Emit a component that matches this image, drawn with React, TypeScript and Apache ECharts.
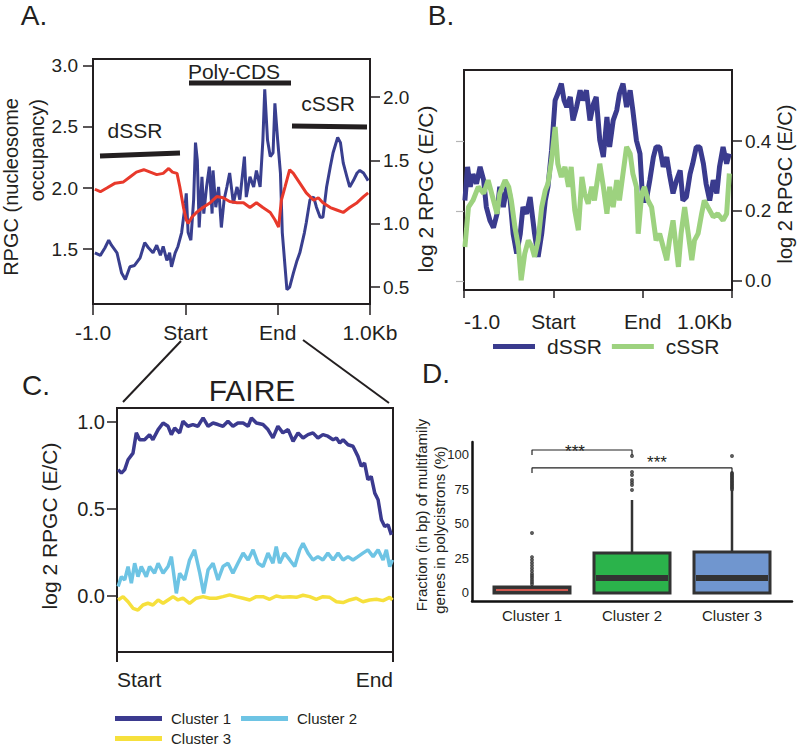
import React, { useEffect, useRef } from 'react';
import * as echarts from 'echarts';

const FONT = "'Liberation Sans', Arial, sans-serif";
const INK = '#231f20';

// ---- tick labels ----
const regionLabels = ['-1.0', 'Start', 'End', '1.0Kb'];
const geneLabels = ['Start', 'End'];
const aLeftTicks = [1.5, 2.0, 2.5, 3.0];
const aRightTicks = [0.5, 1.0, 1.5, 2.0];
const bTicks = [0.0, 0.2, 0.4];
const cTicks = [0.0, 0.5, 1.0];
const dTicks = [0, 25, 50, 75, 100];
const dCategories = ['Cluster 1', 'Cluster 2', 'Cluster 3'];

// ---- Panel A: position (0=-1kb, 1=Start, 2=End, 3=+1kb), value ----
const aNucleosome: [number, number][] = [
  [0.02, 1.99], [0.08, 1.97], [0.15, 2.0], [0.24, 2.04], [0.33, 2.05], [0.4, 2.09], [0.47, 2.13],
  [0.55, 2.15], [0.62, 2.13], [0.69, 2.11], [0.76, 2.12], [0.82, 2.16], [0.86, 2.13], [0.91, 2.12],
  [0.94, 2.01], [0.98, 1.84], [1.01, 1.74], [1.03, 1.71], [1.07, 1.76], [1.12, 1.8], [1.19, 1.84],
  [1.27, 1.88], [1.34, 1.93], [1.41, 1.92], [1.48, 1.89], [1.56, 1.88], [1.63, 1.88], [1.7, 1.84],
  [1.77, 1.88], [1.84, 1.84], [1.92, 1.8], [1.97, 1.74], [2.01, 1.68], [2.04, 1.9], [2.08, 2.01],
  [2.13, 2.15], [2.17, 2.12], [2.24, 2.04], [2.31, 1.96], [2.39, 1.9], [2.44, 1.92], [2.49, 1.88],
  [2.57, 1.84], [2.64, 1.82], [2.71, 1.8], [2.78, 1.84], [2.86, 1.88], [2.93, 1.93], [2.98, 1.96],
];
const aFoldChange: [number, number][] = [
  [0.02, 0.77], [0.08, 0.75], [0.13, 0.81], [0.17, 0.87], [0.2, 0.83], [0.26, 0.77], [0.31, 0.61],
  [0.35, 0.56], [0.4, 0.66], [0.45, 0.67], [0.51, 0.73], [0.56, 0.85], [0.6, 0.81], [0.65, 0.77],
  [0.69, 0.83], [0.73, 0.75], [0.76, 0.82], [0.8, 0.71], [0.83, 0.77], [0.85, 0.66], [0.89, 0.77],
  [0.92, 0.82], [0.96, 0.93], [1.0, 1.16], [1.01, 1.24], [1.03, 0.93], [1.06, 0.87], [1.09, 1.19],
  [1.11, 1.64], [1.13, 1.5], [1.15, 0.97], [1.18, 1.37], [1.2, 1.08], [1.23, 1.29], [1.26, 1.45],
  [1.29, 1.08], [1.3, 1.42], [1.33, 1.13], [1.36, 1.29], [1.39, 0.97], [1.42, 1.19], [1.45, 1.29],
  [1.48, 1.4], [1.52, 1.16], [1.56, 1.29], [1.59, 1.19], [1.64, 1.53], [1.66, 1.21], [1.7, 1.37],
  [1.74, 1.29], [1.77, 1.42], [1.81, 1.29], [1.84, 1.66], [1.86, 2.06], [1.89, 1.66], [1.92, 1.53],
  [1.95, 1.56], [1.97, 1.95], [2.0, 1.66], [2.03, 1.4], [2.05, 0.93], [2.08, 0.66], [2.1, 0.48],
  [2.13, 0.5], [2.17, 0.61], [2.21, 0.71], [2.24, 0.77], [2.29, 0.93], [2.31, 1.01], [2.35, 1.19],
  [2.39, 1.21], [2.42, 1.13], [2.46, 1.05], [2.49, 1.05], [2.53, 1.29], [2.57, 1.45], [2.6, 1.56],
  [2.65, 1.68], [2.68, 1.64], [2.71, 1.48], [2.75, 1.37], [2.78, 1.29], [2.82, 1.34], [2.86, 1.4],
  [2.89, 1.42], [2.93, 1.4], [2.98, 1.34],
];

// ---- Panel B ----
const bDSSR: [number, number][] = [
  [0.01, 0.23], [0.04, 0.326], [0.07, 0.269], [0.1, 0.305], [0.14, 0.278], [0.18, 0.326], [0.22, 0.288],
  [0.25, 0.211], [0.29, 0.173], [0.33, 0.152], [0.37, 0.192], [0.4, 0.269], [0.44, 0.211], [0.48, 0.269],
  [0.51, 0.25], [0.55, 0.135], [0.59, 0.078], [0.63, 0.135], [0.66, 0.211], [0.7, 0.192], [0.74, 0.24],
  [0.79, 0.135], [0.83, 0.069], [0.87, 0.135], [0.91, 0.23], [0.94, 0.269], [0.98, 0.373], [1.02, 0.516],
  [1.05, 0.535], [1.09, 0.564], [1.12, 0.516], [1.15, 0.497], [1.19, 0.526], [1.22, 0.459], [1.26, 0.497],
  [1.3, 0.545], [1.33, 0.516], [1.37, 0.545], [1.41, 0.459], [1.45, 0.507], [1.48, 0.526], [1.52, 0.402],
  [1.56, 0.354], [1.6, 0.469], [1.63, 0.383], [1.67, 0.459], [1.71, 0.488], [1.74, 0.535], [1.78, 0.564],
  [1.82, 0.497], [1.86, 0.545], [1.89, 0.488], [1.93, 0.402], [1.97, 0.364], [2.0, 0.23], [2.04, 0.23],
  [2.08, 0.288], [2.12, 0.354], [2.15, 0.383], [2.19, 0.383], [2.23, 0.326], [2.27, 0.354], [2.3, 0.305],
  [2.34, 0.25], [2.38, 0.288], [2.42, 0.316], [2.45, 0.23], [2.49, 0.24], [2.53, 0.305], [2.56, 0.335],
  [2.6, 0.383], [2.64, 0.383], [2.68, 0.335], [2.71, 0.278], [2.75, 0.23], [2.79, 0.288], [2.83, 0.25],
  [2.86, 0.326], [2.9, 0.383], [2.94, 0.335], [2.97, 0.364],
];
const bCSSR: [number, number][] = [
  [0.01, 0.097], [0.05, 0.211], [0.1, 0.23], [0.16, 0.269], [0.22, 0.25], [0.27, 0.288], [0.33, 0.23],
  [0.37, 0.192], [0.4, 0.25], [0.46, 0.288], [0.5, 0.269], [0.53, 0.23], [0.57, 0.154], [0.61, 0.097],
  [0.64, 0.002], [0.68, 0.078], [0.72, 0.116], [0.76, 0.097], [0.79, 0.069], [0.83, 0.116], [0.87, 0.211],
  [0.91, 0.259], [0.94, 0.278], [0.98, 0.345], [1.02, 0.44], [1.05, 0.335], [1.09, 0.297], [1.13, 0.326],
  [1.17, 0.269], [1.2, 0.326], [1.24, 0.202], [1.28, 0.145], [1.32, 0.297], [1.35, 0.25], [1.39, 0.221],
  [1.43, 0.269], [1.46, 0.23], [1.52, 0.335], [1.56, 0.269], [1.6, 0.192], [1.63, 0.269], [1.67, 0.211],
  [1.71, 0.288], [1.74, 0.23], [1.78, 0.307], [1.82, 0.383], [1.86, 0.364], [1.89, 0.307], [1.93, 0.269],
  [1.95, 0.135], [1.99, 0.25], [2.02, 0.269], [2.06, 0.23], [2.1, 0.211], [2.15, 0.116], [2.19, 0.135],
  [2.23, 0.097], [2.27, 0.059], [2.3, 0.116], [2.34, 0.173], [2.4, 0.04], [2.43, 0.135], [2.47, 0.211],
  [2.51, 0.135], [2.55, 0.059], [2.58, 0.116], [2.62, 0.135], [2.66, 0.192], [2.69, 0.23], [2.73, 0.211],
  [2.79, 0.183], [2.84, 0.192], [2.9, 0.173], [2.94, 0.192], [2.97, 0.307],
];

// ---- Panel C: position (0=Start, 1=End) ----
const cCluster1: [number, number][] = [
  [0.004, 0.726], [0.016, 0.706], [0.028, 0.726], [0.04, 0.783], [0.058, 0.821], [0.07, 0.937],
  [0.082, 0.898], [0.1, 0.898], [0.118, 0.927], [0.13, 0.898], [0.149, 0.956], [0.167, 0.994],
  [0.185, 0.975], [0.197, 0.927], [0.209, 0.965], [0.227, 0.937], [0.239, 1.004], [0.257, 0.975],
  [0.275, 0.985], [0.293, 0.975], [0.312, 1.023], [0.33, 0.975], [0.348, 0.994], [0.366, 0.985],
  [0.384, 0.975], [0.402, 1.004], [0.42, 0.975], [0.438, 0.994], [0.457, 0.994], [0.475, 0.975],
  [0.487, 1.023], [0.505, 0.994], [0.529, 0.985], [0.547, 0.956], [0.565, 0.908], [0.583, 0.975],
  [0.601, 0.937], [0.62, 0.956], [0.638, 0.889], [0.656, 0.937], [0.674, 0.908], [0.692, 0.927],
  [0.71, 0.937], [0.728, 0.908], [0.746, 0.927], [0.764, 0.918], [0.783, 0.898], [0.795, 0.908],
  [0.807, 0.879], [0.819, 0.898], [0.837, 0.869], [0.855, 0.86], [0.873, 0.802], [0.885, 0.745],
  [0.897, 0.764], [0.909, 0.668], [0.921, 0.687], [0.934, 0.591], [0.946, 0.553], [0.958, 0.438],
  [0.97, 0.399], [0.982, 0.409], [0.994, 0.351],
];
const cCluster2: [number, number][] = [
  [0.004, 0.054], [0.016, 0.111], [0.028, 0.092], [0.04, 0.169], [0.052, 0.073], [0.064, 0.188],
  [0.076, 0.111], [0.088, 0.169], [0.106, 0.111], [0.118, 0.169], [0.136, 0.131], [0.149, 0.188],
  [0.167, 0.131], [0.185, 0.169], [0.197, 0.226], [0.215, 0.015], [0.227, 0.131], [0.245, 0.092],
  [0.263, 0.207], [0.281, 0.265], [0.3, 0.131], [0.314, 0.015], [0.33, 0.15], [0.348, 0.188],
  [0.366, 0.092], [0.384, 0.169], [0.402, 0.188], [0.42, 0.131], [0.438, 0.188], [0.457, 0.246],
  [0.475, 0.207], [0.493, 0.265], [0.511, 0.188], [0.529, 0.169], [0.547, 0.246], [0.565, 0.188],
  [0.577, 0.284], [0.589, 0.188], [0.607, 0.246], [0.626, 0.207], [0.644, 0.169], [0.662, 0.265],
  [0.674, 0.303], [0.692, 0.246], [0.71, 0.207], [0.728, 0.226], [0.746, 0.207], [0.764, 0.246],
  [0.783, 0.207], [0.801, 0.246], [0.819, 0.207], [0.837, 0.226], [0.855, 0.207], [0.873, 0.226],
  [0.891, 0.246], [0.909, 0.265], [0.928, 0.226], [0.946, 0.265], [0.964, 0.207], [0.976, 0.265],
  [0.988, 0.169], [0.998, 0.207],
];
const cCluster3: [number, number][] = [
  [0.004, -0.023], [0.022, -0.004], [0.04, -0.033], [0.058, -0.071], [0.076, -0.081], [0.094, -0.052],
  [0.112, -0.042], [0.13, -0.052], [0.149, -0.023], [0.167, -0.042], [0.185, -0.023], [0.203, -0.004],
  [0.221, -0.023], [0.239, -0.013], [0.263, -0.042], [0.287, -0.013], [0.312, -0.004], [0.336, -0.013],
  [0.36, -0.013], [0.384, -0.004], [0.408, 0.006], [0.432, -0.004], [0.457, -0.013], [0.481, -0.023],
  [0.505, -0.004], [0.529, -0.004], [0.553, -0.019], [0.577, 0.0], [0.601, -0.008], [0.626, -0.004],
  [0.65, -0.008], [0.674, 0.004], [0.698, -0.004], [0.722, -0.019], [0.746, -0.004], [0.771, -0.008],
  [0.795, -0.033], [0.819, -0.038], [0.843, -0.023], [0.867, -0.013], [0.891, -0.033], [0.915, -0.023],
  [0.94, -0.019], [0.964, -0.027], [0.988, -0.008], [0.998, -0.023],
];

// ---- Panel D: [categoryIndex, min, Q1, median, Q3, max] ----
const dBoxes = [
  [0, 0, 0, 2.2, 4.3, 5.8],
  [1, 0, 0, 10.9, 29.0, 67.4],
  [2, 0, 0, 10.9, 29.7, 74.6],
];
const dOutliersCluster1 = [6.5, 8, 9.5, 11, 12.5, 14, 16, 18, 20, 22, 24, 26, 43.5];
const dOutliersCluster2 = [74.6, 78.3, 80, 81.9, 85.5, 87.7, 99.3];
const dOutliersCluster3 = [75, 76, 77, 78, 79, 80, 81, 82, 83, 84, 85, 86, 87, 99.3];
// [fromIndex, toIndex, endValue, barValue]
const dBrackets = [
  [0, 1, 100, 103.6],
  [0, 2, 87, 90.6],
];

const boxFills = ['#3a3a3a', '#2bb34b', '#7096cf'];
const medianColors = ['#d0574e', '#333333', '#333333'];
const medianWidths = [2, 6, 6];

function tickAxisLabel(fontSize: number, margin: number, values: number[], fmt: (v: number) => string, extra: any = {}) {
  return {
    customValues: values,
    formatter: (v: number) => fmt(v),
    fontSize,
    fontFamily: FONT,
    color: INK,
    margin,
    ...extra,
  };
}

export default function App() {
  const ref = useRef<HTMLDivElement>(null);
  useEffect(() => {
    if (!ref.current) return;
    const chart = echarts.init(ref.current, undefined, { renderer: 'svg' });

    const outlierPoints: [number, number][] = [
      ...dOutliersCluster1.map((v) => [0, v] as [number, number]),
      ...dOutliersCluster2.map((v) => [1, v] as [number, number]),
      ...dOutliersCluster3.map((v) => [2, v] as [number, number]),
    ];
    const bracketSeries = dBrackets.map((b) => ({
      type: 'line',
      xAxisIndex: 4,
      yAxisIndex: 6,
      data: [[b[0], b[2]], [b[0], b[3]], [b[1], b[3]], [b[1], b[2]]],
      showSymbol: false,
      symbol: 'none',
      lineStyle: { color: '#222', width: 1.2 },
      silent: true,
      z: 5,
    }));

    const txt = (text: string, x: number, y: number, fontSize: number, opts: any = {}) => ({
      type: 'text',
      x,
      y,
      rotation: opts.rotation || 0,
      style: {
        text,
        fontSize,
        fontFamily: FONT,
        fill: opts.fill || INK,
        align: opts.align || 'center',
        verticalAlign: 'middle',
      },
      z: 100,
    });
    const seg = (x1: number, y1: number, x2: number, y2: number, w: number) => ({
      type: 'line',
      shape: { x1, y1, x2, y2 },
      style: { stroke: INK, lineWidth: w },
      z: 100,
    });
    const line2 = { show: true, onZero: false, lineStyle: { color: INK, width: 2 } };

    const option: any = {
      animation: false,
      backgroundColor: '#ffffff',
      grid: [
        { left: 93, top: 59, width: 277, height: 245, show: true, borderColor: INK, borderWidth: 2 },
        { left: 464, top: 70, width: 268, height: 220, show: true, borderColor: INK, borderWidth: 2 },
        { left: 117, top: 408, width: 276, height: 244, show: true, borderColor: INK, borderWidth: 2 },
        { left: 472, top: 442, width: 320, height: 159 },
        { left: 482, top: 442, width: 300, height: 159 },
      ],
      xAxis: [
        {
          gridIndex: 0, type: 'value', min: 0, max: 3,
          axisLine: line2,
          axisTick: { show: true, length: 11, customValues: [0, 1, 2, 3], lineStyle: { color: INK, width: 1.5 } },
          axisLabel: tickAxisLabel(21, 18, [0, 1, 2, 3], (v) => regionLabels[Math.round(v)]),
          splitLine: { show: false },
        },
        {
          gridIndex: 1, type: 'value', min: 0, max: 3,
          axisLine: line2,
          axisTick: { show: true, length: 8, customValues: [0, 1, 2, 3], lineStyle: { color: INK, width: 1.5 } },
          axisLabel: tickAxisLabel(21, 21, [0, 1, 2, 3], (v) => regionLabels[Math.round(v)], { alignMinLabel: 'left', alignMaxLabel: 'right' }),
          splitLine: { show: false },
        },
        {
          gridIndex: 2, type: 'value', min: 0, max: 1,
          axisLine: line2,
          axisTick: { show: true, length: 10, customValues: [0, 1], lineStyle: { color: INK, width: 2 } },
          axisLabel: tickAxisLabel(21, 17, [0, 1], (v) => geneLabels[Math.round(v)], { alignMinLabel: 'left', alignMaxLabel: 'right' }),
          splitLine: { show: false },
        },
        {
          gridIndex: 3, type: 'value', min: 0, max: 1,
          axisLine: { show: true, onZero: false, lineStyle: { color: '#111', width: 2.5 } },
          axisTick: { show: false }, axisLabel: { show: false }, splitLine: { show: false },
        },
        {
          gridIndex: 4, type: 'category', data: dCategories,
          axisLine: { show: false, onZero: false }, axisTick: { show: false },
          axisLabel: { fontSize: 15, fontFamily: FONT, color: INK, margin: 7 },
        },
      ],
      yAxis: [
        {
          gridIndex: 0, type: 'value', position: 'left', min: 1.05, max: 3.057,
          axisLine: line2,
          axisTick: { show: true, length: 10, customValues: aLeftTicks, lineStyle: { color: INK, width: 1.5 } },
          axisLabel: tickAxisLabel(19, 15, aLeftTicks, (v) => v.toFixed(1)),
          splitLine: { show: false },
        },
        {
          gridIndex: 0, type: 'value', position: 'right', min: 0.366, max: 2.3,
          axisLine: line2,
          axisTick: { show: true, length: 10, customValues: aRightTicks, lineStyle: { color: INK, width: 1.5 } },
          axisLabel: tickAxisLabel(19, 13, aRightTicks, (v) => v.toFixed(1)),
          splitLine: { show: false },
        },
        {
          gridIndex: 1, type: 'value', position: 'left', min: -0.026, max: 0.603,
          axisLine: line2,
          axisTick: { show: true, length: 8, customValues: bTicks, lineStyle: { color: '#b5b5b5', width: 1.2 } },
          axisLabel: { show: false },
          splitLine: { show: false },
        },
        {
          gridIndex: 1, type: 'value', position: 'right', min: -0.026, max: 0.603,
          axisLine: line2,
          axisTick: { show: true, length: 10, customValues: bTicks, lineStyle: { color: INK, width: 1.5 } },
          axisLabel: tickAxisLabel(19, 13, bTicks, (v) => v.toFixed(1)),
          splitLine: { show: false },
        },
        {
          gridIndex: 2, type: 'value', position: 'left', min: -0.322, max: 1.08,
          axisLine: line2,
          axisTick: { show: true, length: 10, customValues: cTicks, lineStyle: { color: INK, width: 1.5 } },
          axisLabel: tickAxisLabel(20, 12, cTicks, (v) => v.toFixed(1)),
          splitLine: { show: false },
        },
        {
          gridIndex: 3, type: 'value', min: -5.8, max: 109.4,
          axisLine: { show: true, onZero: false, lineStyle: { color: '#111', width: 2.5 } },
          axisTick: { show: false },
          axisLabel: tickAxisLabel(13, 3, dTicks, (v) => String(v)),
          splitLine: { show: false },
        },
        {
          gridIndex: 4, type: 'value', min: -5.8, max: 109.4, show: false,
          splitLine: { show: false },
        },
      ],
      legend: [
        {
          data: ['dSSR', 'cSSR'], left: 493, top: 336, padding: 0, icon: 'rect',
          itemWidth: 42, itemHeight: 5, itemGap: 10,
          textStyle: { fontSize: 21, fontFamily: FONT, color: INK, padding: [0, 0, 0, 7] },
        },
        {
          data: ['Cluster 1', 'Cluster 2'], left: 115, top: 711, padding: 0, icon: 'rect',
          itemWidth: 47, itemHeight: 5, itemGap: 10,
          textStyle: { fontSize: 15, fontFamily: FONT, color: INK, padding: [0, 0, 0, 4] },
        },
        {
          data: ['Cluster 3'], left: 115, top: 731, padding: 0, icon: 'rect',
          itemWidth: 47, itemHeight: 5, itemGap: 10,
          textStyle: { fontSize: 15, fontFamily: FONT, color: INK, padding: [0, 0, 0, 4] },
        },
      ],
      series: [
        {
          name: 'log 2 RPGC (E/C)', type: 'line', xAxisIndex: 0, yAxisIndex: 1, data: aFoldChange,
          showSymbol: false, lineStyle: { color: '#393f8f', width: 3 }, itemStyle: { color: '#393f8f' }, z: 2,
        },
        {
          name: 'RPGC', type: 'line', xAxisIndex: 0, yAxisIndex: 0, data: aNucleosome,
          showSymbol: false, lineStyle: { color: '#e8392b', width: 3 }, itemStyle: { color: '#e8392b' }, z: 3,
        },
        {
          name: 'dSSR', type: 'line', xAxisIndex: 1, yAxisIndex: 3, data: bDSSR,
          showSymbol: false, lineStyle: { color: '#3a3b8e', width: 5 }, itemStyle: { color: '#3a3b8e' }, z: 2,
        },
        {
          name: 'cSSR', type: 'line', xAxisIndex: 1, yAxisIndex: 3, data: bCSSR,
          showSymbol: false, lineStyle: { color: '#9dd27f', width: 5 }, itemStyle: { color: '#9dd27f' }, z: 3,
        },
        {
          name: 'Cluster 1', type: 'line', xAxisIndex: 2, yAxisIndex: 4, data: cCluster1,
          showSymbol: false, lineStyle: { color: '#3b3a8f', width: 3.5 }, itemStyle: { color: '#3b3a8f' },
        },
        {
          name: 'Cluster 2', type: 'line', xAxisIndex: 2, yAxisIndex: 4, data: cCluster2,
          showSymbol: false, lineStyle: { color: '#6ec4e4', width: 3.5 }, itemStyle: { color: '#6ec4e4' },
        },
        {
          name: 'Cluster 3', type: 'line', xAxisIndex: 2, yAxisIndex: 4, data: cCluster3,
          showSymbol: false, lineStyle: { color: '#f6e03c', width: 3.5 }, itemStyle: { color: '#f6e03c' },
        },
        {
          type: 'custom', xAxisIndex: 4, yAxisIndex: 6, data: dBoxes,
          encode: { x: 0, y: [1, 2, 3, 4, 5] },
          renderItem: (params: any, api: any) => {
            const i = api.value(0);
            const pMin = api.coord([i, api.value(1)]);
            const pQ1 = api.coord([i, api.value(2)]);
            const pMed = api.coord([i, api.value(3)]);
            const pQ3 = api.coord([i, api.value(4)]);
            const pMax = api.coord([i, api.value(5)]);
            const half = api.size([1, 0])[0] * 0.38;
            const x = pQ1[0];
            return {
              type: 'group',
              children: [
                { type: 'line', shape: { x1: x, y1: pQ3[1], x2: x, y2: pMax[1] }, style: { stroke: '#333', lineWidth: 2.5 } },
                { type: 'line', shape: { x1: x, y1: pMin[1], x2: x, y2: pQ1[1] }, style: { stroke: '#333', lineWidth: 2.5 } },
                {
                  type: 'rect',
                  shape: { x: x - half, y: pQ3[1], width: half * 2, height: pQ1[1] - pQ3[1] },
                  style: { fill: boxFills[i], stroke: '#333', lineWidth: 3 },
                },
                {
                  type: 'line',
                  shape: { x1: x - half + 2, y1: pMed[1], x2: x + half - 2, y2: pMed[1] },
                  style: { stroke: medianColors[i], lineWidth: medianWidths[i] },
                },
              ],
            };
          },
          z: 3,
        },
        {
          type: 'scatter', xAxisIndex: 4, yAxisIndex: 6, data: outlierPoints,
          symbolSize: 4, itemStyle: { color: '#333' }, z: 4,
        },
        ...bracketSeries,
      ],
      graphic: [
        txt('A.', 34, 15, 28),
        txt('B.', 441, 15, 28),
        txt('C.', 36, 385, 28),
        txt('D.', 436, 373, 28),
        // Panel A annotations
        txt('Poly-CDS', 234, 71, 21),
        seg(189, 83, 291, 83, 5),
        txt('dSSR', 135, 130, 21),
        seg(100, 156, 180, 153, 5),
        txt('cSSR', 328, 103, 21),
        seg(292, 126, 367, 127, 5),
        // axis titles
        txt('RPGC (nucleosome', 11, 98, 20, { rotation: Math.PI / 2, align: 'right' }),
        txt('occupancy)', 37, 99, 20, { rotation: Math.PI / 2, align: 'right' }),
        txt('log 2 RPGC (E/C)', 425, 189, 21, { rotation: Math.PI / 2 }),
        txt('log 2 RPGC (E/C)', 785, 184, 20, { rotation: Math.PI / 2 }),
        txt('log 2 RPGC (E/C)', 49, 526, 21, { rotation: Math.PI / 2 }),
        txt('Fraction (in bp) of multifamily', 421, 515, 15, { rotation: Math.PI / 2 }),
        txt('genes in polycistrons (%)', 439, 530, 15, { rotation: Math.PI / 2 }),
        // Panel C
        txt('FAIRE', 252, 390, 30),
        seg(181, 341, 123, 402, 2),
        seg(303, 340, 389, 403, 2),
        // Panel D significance
        txt('***', 575, 451, 17),
        txt('***', 657, 462, 17),
      ],
    };

    chart.setOption(option);
    return () => {
      chart.dispose();
    };
  }, []);

  return (
    <div
      ref={ref}
      style={{ position: 'fixed', left: 0, top: 0, width: 797, height: 746, background: '#fff' }}
    />
  );
}
